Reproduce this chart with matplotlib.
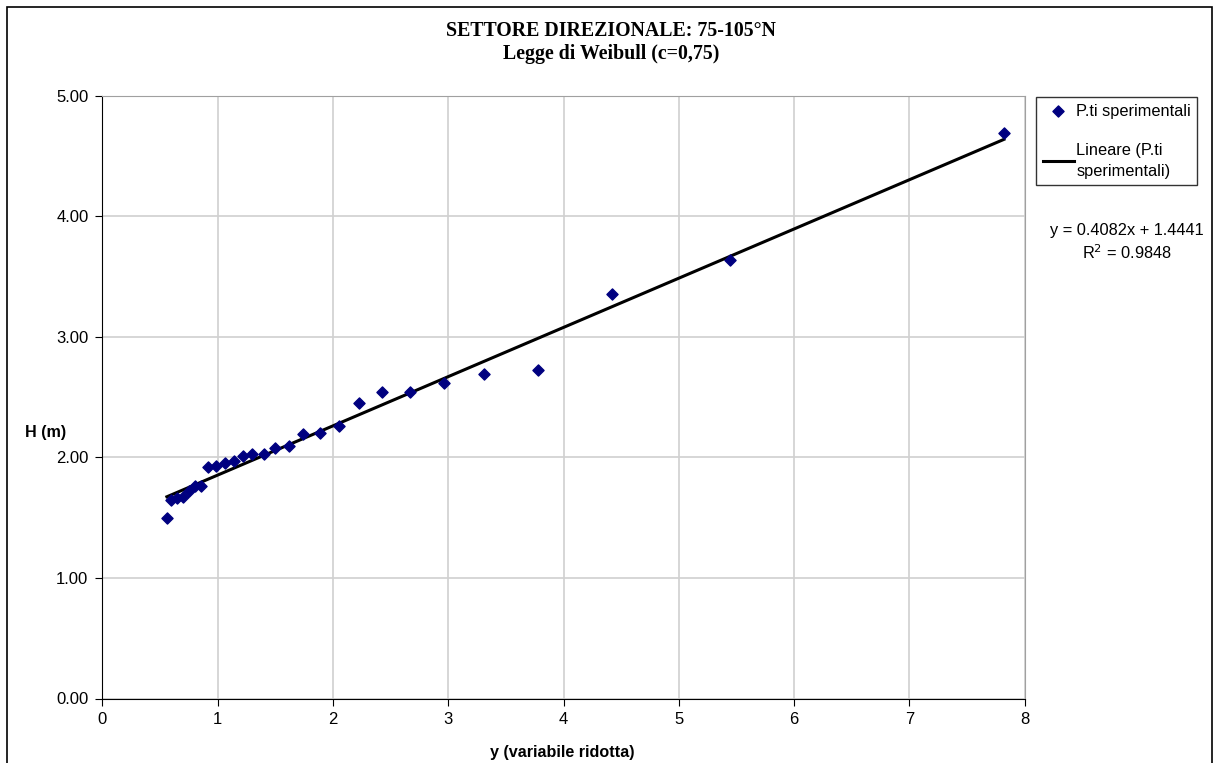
import matplotlib
matplotlib.use("Agg")
import matplotlib.pyplot as plt
from matplotlib.patches import Rectangle

# experimental points (reduced variable y, wave height H)
y_rid = [0.56, 0.60, 0.645, 0.70, 0.75, 0.80, 0.86, 0.92, 0.99, 1.06, 1.14, 1.22,
         1.30, 1.40, 1.50, 1.62, 1.74, 1.89, 2.05, 2.23, 2.43, 2.67, 2.96, 3.31,
         3.78, 4.42, 5.44, 7.82]
h_m = [1.50, 1.65, 1.66, 1.67, 1.72, 1.76, 1.76, 1.92, 1.93, 1.95, 1.97, 2.01,
       2.03, 2.03, 2.08, 2.09, 2.19, 2.20, 2.26, 2.45, 2.54, 2.54, 2.62, 2.69,
       2.72, 3.35, 3.64, 4.69]

slope = 0.4082
intercept = 1.4441
r2 = 0.9848

xticks = [0, 1, 2, 3, 4, 5, 6, 7, 8]
yticks = [0.0, 1.0, 2.0, 3.0, 4.0, 5.0]

W, H = 1217, 763
fig = plt.figure(figsize=(W / 100, H / 100), dpi=100)
plt.rcParams['font.family'] = ['Liberation Sans', 'DejaVu Sans']

# outer chart border
fig.patches.append(Rectangle((7 / W, -0.01), (1212 - 7) / W, 1 - 7 / H + 0.01,
                             transform=fig.transFigure, fill=False,
                             edgecolor='black', lw=1.2))

ax = fig.add_axes([102.3 / W, 1 - 698.5 / H, (1024.7 - 102.3) / W, (698.5 - 95.5) / H])

ax.scatter(y_rid, h_m, marker='D', s=32, color='#000080', zorder=3,
           label='P.ti sperimentali')
x0, x1 = min(y_rid), max(y_rid)
ax.plot([x0, x1], [slope * x0 + intercept, slope * x1 + intercept], color='black',
        lw=2.2, zorder=2, label='Lineare (P.ti\nsperimentali)')

ax.set_xlim(0, 8)
ax.set_ylim(0, 5)
ax.set_xticks(xticks)
ax.set_yticks(yticks)
ax.set_yticklabels([f"{v:.2f}" for v in yticks])
ax.grid(True, color='#d0d0d0', lw=1.2)
ax.set_axisbelow(True)
ax.tick_params(labelsize=12, direction='out', length=5, color='black', pad=5)
for s in ['top', 'right']:
    ax.spines[s].set_color('#a0a0a0')
for s in ['left', 'bottom']:
    ax.spines[s].set_color('black')

fig.text(611 / W, 1 - 31 / H, 'SETTORE DIREZIONALE: 75-105°N', ha='center', va='center',
         family=['Liberation Serif', 'DejaVu Serif'], fontweight='bold', fontsize=14.3)
fig.text(611 / W, 1 - 54 / H, 'Legge di Weibull (c=0,75)', ha='center', va='center',
         family=['Liberation Serif', 'DejaVu Serif'], fontweight='bold', fontsize=14.3)
fig.text(25 / W, 1 - 433 / H, 'H (m)', ha='left', va='center', fontweight='bold', fontsize=11.6)
fig.text(562 / W, 1 - 752 / H, 'y (variabile ridotta)', ha='center', va='center',
         fontweight='bold', fontsize=11.6)

fig.text(1127 / W, 1 - 230 / H, f'y = {slope}x + {intercept}', ha='center', va='center',
         fontsize=11.8)
fig.text(1127 / W, 1 - 253 / H, f'R$^2$ = {r2}', ha='center', va='center', fontsize=11.8)

leg = fig.legend(loc='upper left', bbox_to_anchor=(1036 / W, 1 - 97 / H), fontsize=11.8,
                 frameon=True, fancybox=False, edgecolor='black', borderpad=0.4,
                 handlelength=1.9, handletextpad=0.15, labelspacing=1.5, borderaxespad=0)
leg.get_frame().set_linewidth(1.0)
for t in leg.get_texts():
    t.set_linespacing(1.45)

fig.savefig('out.png', dpi=100)
